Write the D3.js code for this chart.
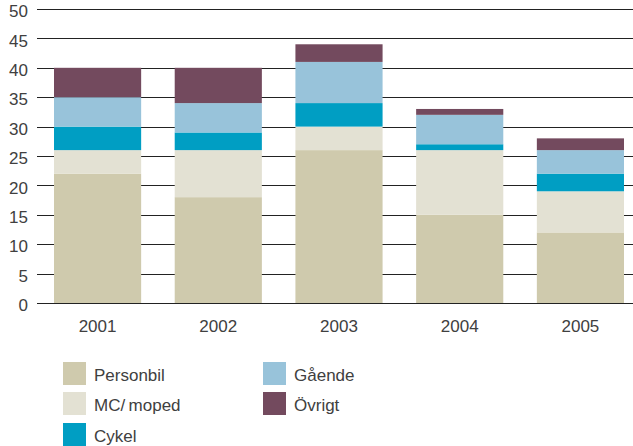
<!DOCTYPE html>
<html><head><meta charset="utf-8">
<script src="https://cdn.jsdelivr.net/npm/d3@7"></script>
<style>body{margin:0;background:#fff}svg{display:block}text{font-family:"Liberation Sans",Arial,sans-serif;fill:#404040}</style>
</head><body><svg id="c" width="633" height="446"></svg>
<script>
const years = ["2001","2002","2003","2004","2005"];
const seriesNames = ["Personbil","MC/moped","Cykel","Gående","Övrigt"];
const personbil = [22,18,26,15,12];
const mcmoped = [4,8,4,11,7];
const cykel = [4,3,4,1,3];
const gaende = [5,5,7,5,4];
const ovrigt = [5,6,3,1,2];
const colors = ["#cfcaad","#e3e1d3","#009ec3","#98c3da","#734a5e"];
const yTicks = [0,5,10,15,20,25,30,35,40,45,50];

const rows = years.map((y,i)=>({year:y,"Personbil":personbil[i],"MC/moped":mcmoped[i],"Cykel":cykel[i],"Gående":gaende[i],"Övrigt":ovrigt[i]}));
const stack = d3.stack().keys(seriesNames)(rows);

const svg = d3.select("#c");
const xb = d3.scaleBand().domain(years).range([54,624]).paddingInner(0.278).paddingOuter(0);
const y = d3.scaleLinear().domain([0,50]).range([303,9]);

const grid = svg.append("g");
yTicks.forEach(t=>{
  grid.append("line").attr("x1",37).attr("x2",633).attr("y1",Math.round(y(t))+0.5).attr("y2",Math.round(y(t))+0.5)
    .attr("stroke","#222").attr("stroke-width",1);
  svg.append("text").attr("x",28).attr("y",y(t)).attr("dy","0.48em").attr("text-anchor","end")
    .attr("font-size",17).text(t);
});

svg.append("g").selectAll("g").data(stack).join("g").attr("fill",(d,i)=>colors[i])
  .selectAll("rect").data(d=>d).join("rect")
  .attr("x",d=>xb(d.data.year)).attr("width",xb.bandwidth())
  .attr("y",d=>y(d[1])).attr("height",d=>y(d[0])-y(d[1]));

years.forEach(yr=>{
  svg.append("text").attr("x",xb(yr)+xb.bandwidth()/2).attr("y",332).attr("text-anchor","middle")
    .attr("font-size",17).text(yr);
});

const legendPos = [[63,362],[63,392],[63,423],[263,362],[263,392]];
seriesNames.forEach((n,i)=>{
  const [lx,ly] = legendPos[i];
  svg.append("rect").attr("x",lx).attr("y",ly).attr("width",23).attr("height",23).attr("fill",colors[i]);
  svg.append("text").attr("x",lx+31).attr("y",ly+11.5).attr("dy","0.42em").attr("font-size",17)
    .text(n==="MC/moped"?"MC/\u2009moped":n);
});
</script></body></html>
